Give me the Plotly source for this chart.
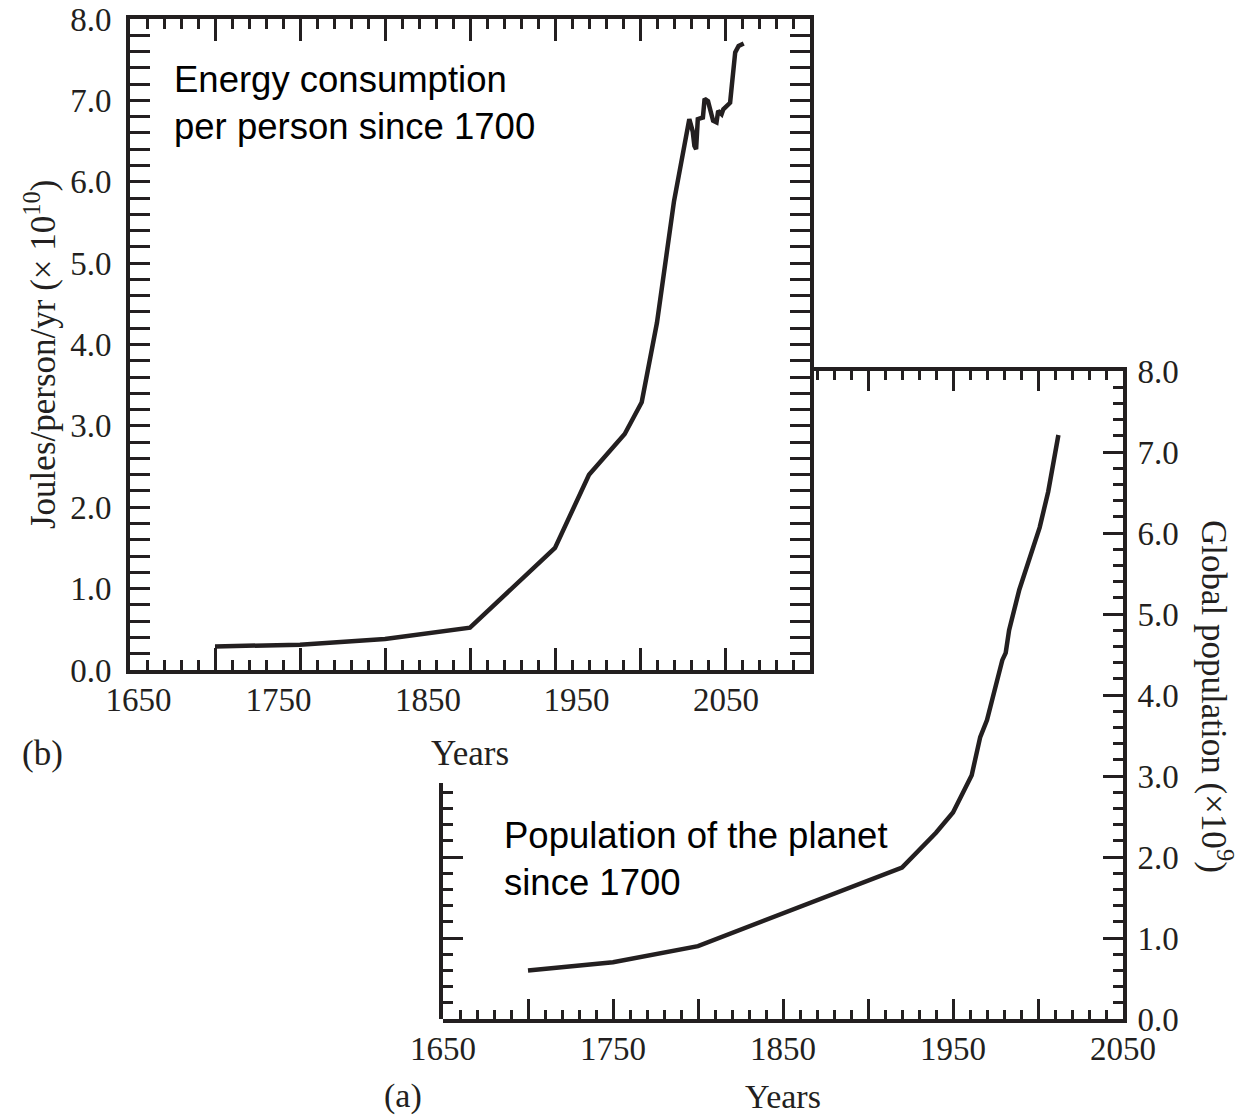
import plotly.graph_objects as go

# ---------------- data ----------------
energy_years = [1700, 1750, 1800, 1850, 1900, 1920, 1941, 1951, 1960, 1970,
                1979, 1981, 1982, 1983, 1984, 1987, 1988, 1990, 1993, 1995,
                1996, 1998, 1999, 2001, 2003, 2004, 2006, 2008, 2011]
energy_vals = [0.29, 0.31, 0.38, 0.52, 1.50, 2.40, 2.90, 3.29, 4.27, 5.76,
               6.77, 6.62, 6.44, 6.40, 6.77, 6.79, 7.02, 6.99, 6.75, 6.73,
               6.87, 6.83, 6.89, 6.93, 6.97, 7.18, 7.59, 7.67, 7.70]

pop_years = [1700, 1750, 1800, 1920, 1940, 1950, 1961, 1966, 1970, 1979,
             1981, 1983, 1989, 1995, 2001, 2006, 2008, 2012]
pop_vals = [0.60, 0.70, 0.90, 1.87, 2.30, 2.55, 3.01, 3.48, 3.69, 4.43,
            4.52, 4.80, 5.30, 5.70, 6.07, 6.51, 6.74, 7.21]

# tick labels of panel (b) x axis (printed slightly off the tick marks in the original)
b_xlabel_pos = [1655, 1737.4, 1825.3, 1912.6, 2000.6]
b_xlabel_text = ["1650", "1750", "1850", "1950", "2050"]

# tick labels of panel (a) x axis
a_xlabel_pos = [1650, 1750, 1850, 1950, 2050]
a_xlabel_text = ["1650", "1750", "1850", "1950", "2050"]

# ---------------- layout helpers ----------------
W, H = 1255, 1118
INK = "#231f20"


def fx(px):
    return px / W


def fy(py):
    return 1 - py / H


b_x = [fx(130), fx(810)]
b_y = [fy(670), fy(19)]
a_x = [fx(443), fx(1123)]
a_y = [fy(1019), fy(371)]
XR = [1650, 2050]
YR = [0, 8]

# partial (visible) top axis of panel (a)
a_top_dom = [fx(812), a_x[1]]
a_top_range = [XR[0] + (a_top_dom[0] - a_x[0]) / (a_x[1] - a_x[0]) * (XR[1] - XR[0]), XR[1]]
# partial (visible) left axis of panel (a)
a_left_dom = [a_y[0], fy(783)]
a_left_range = [0, (a_left_dom[1] - a_y[0]) / (a_y[1] - a_y[0]) * (YR[1] - YR[0])]

tickfont = dict(family="Liberation Serif", size=33, color=INK)
common = dict(showline=True, linewidth=4, linecolor=INK, ticks="inside",
              tickcolor=INK, tickwidth=3, showgrid=False, zeroline=False,
              tickfont=tickfont, automargin=False)
label_only = dict(ticks="", showline=False, showgrid=False, zeroline=False,
                  tickfont=tickfont, automargin=False, ticklabelstandoff=7)


def minor(step, length):
    return dict(dtick=step, ticks="inside", ticklen=length, tickwidth=2.5,
                tickcolor=INK, showgrid=False)


fig = go.Figure()
fig.add_trace(go.Scatter(x=energy_years, y=energy_vals, mode="lines",
                         line=dict(color=INK, width=4.5), xaxis="x", yaxis="y",
                         showlegend=False, hoverinfo="x+y"))
fig.add_trace(go.Scatter(x=pop_years, y=pop_vals, mode="lines",
                         line=dict(color=INK, width=4.5), xaxis="x2", yaxis="y2",
                         showlegend=False, hoverinfo="x+y"))
# empty traces so the extra axes are drawn
fig.add_trace(go.Scatter(x=[], y=[], xaxis="x3", yaxis="y", showlegend=False))
fig.add_trace(go.Scatter(x=[], y=[], xaxis="x4", yaxis="y2", showlegend=False))
fig.add_trace(go.Scatter(x=[], y=[], xaxis="x2", yaxis="y4", showlegend=False))
fig.add_trace(go.Scatter(x=[], y=[], xaxis="x5", yaxis="y2", showlegend=False))

fig.update_layout(
    width=W, height=H, margin=dict(l=0, r=0, t=0, b=0, autoexpand=False),
    paper_bgcolor="white", plot_bgcolor="rgba(0,0,0,0)",
    showlegend=False,
    # panel (b)
    xaxis=dict(domain=b_x, anchor="y", range=XR, tick0=1650, dtick=50,
               ticklen=22, mirror="allticks", showticklabels=False,
               minor=dict(tick0=1650, **minor(10, 10)), **common),
    xaxis3=dict(overlaying="x", anchor="y", side="bottom", range=XR,
                tickvals=b_xlabel_pos, ticktext=b_xlabel_text, **label_only),
    yaxis=dict(domain=b_y, anchor="x", range=YR, dtick=1, tickformat=".1f",
               ticklen=20, mirror="allticks", ticklabelstandoff=8,
               minor=minor(0.2, 10), **common),
    # panel (a)
    xaxis2=dict(domain=a_x, anchor="y2", range=XR, tick0=1650, dtick=50,
                ticklen=20, showticklabels=False,
                minor=dict(tick0=1650, **minor(10, 9)), **common),
    xaxis5=dict(overlaying="x2", anchor="y2", side="bottom", range=XR,
                tickvals=a_xlabel_pos, ticktext=a_xlabel_text, **label_only),
    yaxis2=dict(domain=a_y, anchor="x2", side="right", range=YR, dtick=1,
                tickformat=".1f", ticklen=20, ticklabelstandoff=4,
                minor=minor(0.2, 10), **common),
    xaxis4=dict(domain=a_top_dom, anchor="y2", side="top", range=a_top_range,
                tick0=1650, dtick=50, ticklen=20, showticklabels=False,
                minor=dict(tick0=1650, **minor(10, 9)), **common),
    yaxis4=dict(domain=a_left_dom, anchor="x2", side="left", range=a_left_range,
                dtick=1, ticklen=20, showticklabels=False,
                minor=minor(0.2, 10), **common),
)

serif = dict(family="Liberation Serif", size=35, color=INK)
serif_b = dict(family="Liberation Serif", size=34, color=INK)
sans = dict(family="Liberation Sans", size=36.5, color="black")

annotations = [
    dict(text="Energy consumption<br>per person since 1700", x=fx(172), y=fy(57),
         xanchor="left", yanchor="top", align="left", font=sans),
    dict(text="Population of the planet<br>since 1700", x=fx(502), y=fy(813),
         xanchor="left", yanchor="top", align="left", font=sans),
    dict(text="Joules/person/yr (× 10<sup>10</sup>)", x=fx(40), y=fy(355),
         textangle=-90, xanchor="center", yanchor="middle", font=serif),
    dict(text="Global population (×10<sup>9</sup>)", x=fx(1217), y=fy(696),
         textangle=90, xanchor="center", yanchor="middle", font=serif),
    dict(text="Years", x=fx(470), y=fy(753), xanchor="center", yanchor="middle", font=serif),
    dict(text="Years", x=fx(783), y=fy(1096), xanchor="center", yanchor="middle", font=serif_b),
    dict(text="(b)", x=fx(42), y=fy(753), xanchor="center", yanchor="middle", font=serif),
    dict(text="(a)", x=fx(403), y=fy(1096), xanchor="center", yanchor="middle", font=serif_b),
]
for a in annotations:
    a.update(xref="paper", yref="paper", showarrow=False)
fig.update_layout(annotations=annotations)

fig.write_html(
    "out.html",
    config={"displayModeBar": False},
    post_script="document.body.style.margin='0px';document.body.style.overflow='hidden';",
)
